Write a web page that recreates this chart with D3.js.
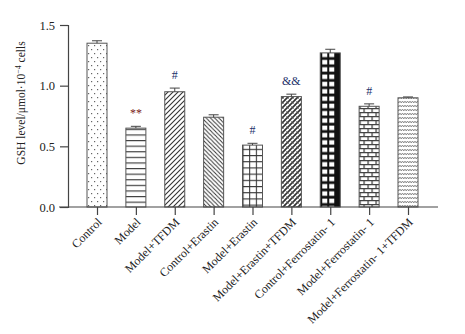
<!DOCTYPE html>
<html>
<head>
<meta charset="utf-8">
<script src="https://cdn.jsdelivr.net/npm/d3@7"></script>
<style>
  body { margin: 0; background: #fff; }
  text { font-family: "Liberation Serif", "Times New Roman", serif; fill: #222; }
</style>
</head>
<body>
<div id="chart"></div>
<script>
// values
let categories = ["Control", "Model", "Model+TFDM", "Control+Erastin", "Model+Erastin",
    "Model+Erastin+TFDM", "Control+Ferrostatin-1", "Model+Ferrostatin-1", "Model+Ferrostatin-1+TFDM"];
let labels = ["Control", "Model", "Model+TFDM", "Control+Erastin", "Model+Erastin",
    "Model+Erastin+TFDM", "Control+Ferrostatin- 1", "Model+Ferrostatin- 1", "Model+Ferrostatin- 1+TFDM"];
let means = [1.35, 0.65, 0.95, 0.74, 0.51, 0.91, 1.27, 0.83, 0.90];
let errors = [0.02, 0.015, 0.03, 0.02, 0.015, 0.02, 0.03, 0.02, 0.007];
let marks = ["", "**", "#", "", "#", "&&", "", "#", ""];
let yTicks = [0, 0.5, 1.0, 1.5];

let w = 465, h = 334;
let svg = d3.select("#chart").append("svg").attr("width", w).attr("height", h);

const y = d3.scaleLinear().domain([0, 1.5]).range([207, 25]);
const x = d3.scalePoint().domain(categories).range([97, 408]);
let barW = 20;

let defs = svg.append("defs");
function pat(id, pw, ph, px) {
    return defs.append("pattern").attr("id", id)
        .attr("patternUnits", "userSpaceOnUse")
        .attr("x", px || 0).attr("y", 0)
        .attr("width", pw).attr("height", ph);
}
// 0 dots
let p0 = pat("p0", 6, 8);
p0.append("rect").attr("width", 6).attr("height", 8).attr("fill", "#fff");
p0.append("rect").attr("x", 1).attr("y", 1).attr("width", 1.2).attr("height", 1.2).attr("fill", "#666");
p0.append("rect").attr("x", 4).attr("y", 5).attr("width", 1.2).attr("height", 1.2).attr("fill", "#666");
// 1 horizontal lines
let p1 = pat("p1", 10, 5.6);
p1.append("rect").attr("width", 10).attr("height", 5.6).attr("fill", "#fff");
p1.append("line").attr("x1", 0).attr("x2", 10).attr("y1", 0.6).attr("y2", 0.6)
    .attr("stroke", "#333").attr("stroke-width", 1.1);
// 2 "/" diagonals
let p2 = pat("p2", 5, 5);
p2.append("rect").attr("width", 5).attr("height", 5).attr("fill", "#fff");
p2.append("path").attr("d", "M0,5L5,0M-1,1L1,-1M4,6L6,4").attr("stroke", "#333").attr("stroke-width", 1.1);
// 3 "\" diagonals
let p3 = pat("p3", 4.2, 4.2);
p3.append("rect").attr("width", 4.2).attr("height", 4.2).attr("fill", "#fff");
p3.append("path").attr("d", "M0,0L4.2,4.2M-1,3.2L1,5.2M3.2,-1L5.2,1").attr("stroke", "#333").attr("stroke-width", 1);
// 4 grid
let gx = x("Model+Erastin") - barW / 2;
let p4 = pat("p4", barW / 3, 6.2, gx);
p4.append("rect").attr("width", barW / 3).attr("height", 6.2).attr("fill", "#fff");
p4.append("path").attr("d", "M0,0.5H" + (barW / 3) + "M0.5,0V6.2").attr("stroke", "#333").attr("stroke-width", 1.1);
// 5 cross hatch
let p5 = pat("p5", 5, 5);
p5.append("rect").attr("width", 5).attr("height", 5).attr("fill", "#fff");
p5.append("path").attr("d", "M0,5L5,0M-1,1L1,-1M4,6L6,4").attr("stroke", "#333").attr("stroke-width", 1.6);
p5.append("path").attr("d", "M0,0L5,5").attr("stroke", "#555").attr("stroke-width", 0.6);
// 6 black with white squares
let bx = x("Control+Ferrostatin-1") - barW / 2;
let p6 = pat("p6", barW, 7.3, bx);
p6.append("rect").attr("width", barW).attr("height", 7.3).attr("fill", "#111");
p6.append("rect").attr("x", 2).attr("y", 1.5).attr("width", 5).attr("height", 4.5).attr("fill", "#fff");
p6.append("rect").attr("x", 9).attr("y", 1.5).attr("width", 5).attr("height", 4.5).attr("fill", "#fff");
// 7 bricks
let p7 = pat("p7", 8, 8, x("Model+Ferrostatin-1") - barW / 2);
p7.append("rect").attr("width", 8).attr("height", 8).attr("fill", "#fff");
p7.append("path").attr("d", "M0,0.6H8M0,4.6H8M1,0.6V4.6M5,4.6V8.6")
    .attr("stroke", "#444").attr("stroke-width", 1.3);
// 8 zigzag
let p8 = pat("p8", 5, 4);
p8.append("rect").attr("width", 5).attr("height", 4).attr("fill", "#fff");
p8.append("path").attr("d", "M0,1L1.25,3L2.5,1L3.75,3L5,1").attr("fill", "none")
    .attr("stroke", "#777").attr("stroke-width", 0.8);

// bars
let g = svg.append("g");
g.selectAll(".bar").data(categories).enter().append("rect")
    .attr("class", "bar")
    .attr("x", function(d) { return x(d) - barW / 2; })
    .attr("y", function(d, i) { return y(means[i]); })
    .attr("width", barW)
    .attr("height", function(d, i) { return y(0) - y(means[i]); })
    .attr("fill", function(d, i) { return "url(#p" + i + ")"; })
    .attr("stroke", "#555").attr("stroke-width", 1);

// error bars (upper only)
g.selectAll(".err").data(categories).enter().append("path")
    .attr("class", "err")
    .attr("d", function(d, i) {
        let cx = x(d), t = y(means[i]), e = y(means[i] + errors[i]);
        return "M" + cx + "," + t + "V" + e + "M" + (cx - 5) + "," + e + "H" + (cx + 5);
    })
    .attr("stroke", "#444").attr("stroke-width", 1).attr("fill", "none");

// significance marks
g.selectAll(".mark").data(categories).enter().append("text")
    .attr("class", "mark")
    .attr("x", function(d) { return x(d); })
    .attr("y", function(d, i) { return y(means[i] + errors[i]) - 9; })
    .attr("text-anchor", "middle")
    .style("font-size", "12px")
    .style("fill", function(d, i) { return marks[i] === "**" ? "#7a2020" : "#22306a"; })
    .text(function(d, i) { return marks[i]; });

// y axis
let yAxis = svg.append("g").attr("transform", "translate(68,0)")
    .call(d3.axisLeft(y).tickValues(yTicks).tickFormat(d3.format(".1f")).tickSize(8).tickPadding(5));
yAxis.select(".domain").attr("stroke", "#444").attr("stroke-width", 1.2);
yAxis.selectAll(".tick line").attr("stroke", "#444").attr("stroke-width", 1.2);
yAxis.selectAll(".tick text").style("font-size", "12.5px").style("font-family", "Liberation Serif").attr("fill", "#222");

// x axis
let xAxis = svg.append("g").attr("transform", "translate(0,207)")
    .call(d3.axisBottom(x).tickSize(8).tickFormat(function(d, i) { return labels[i]; }));
xAxis.select(".domain").remove();
xAxis.append("line").attr("x1", 59).attr("x2", 438).attr("y1", 0).attr("y2", 0)
    .attr("stroke", "#444").attr("stroke-width", 1.2);
xAxis.selectAll(".tick line").attr("stroke", "#444").attr("stroke-width", 1.2);
xAxis.selectAll(".tick text")
    .style("font-size", "12px").style("font-family", "Liberation Serif").attr("fill", "#222")
    .attr("text-anchor", "end")
    .attr("dy", null)
    .attr("y", 0)
    .attr("transform", "translate(5,16) rotate(-45)");

// y label
svg.append("text")
    .attr("transform", "translate(25,103) rotate(-90)")
    .attr("text-anchor", "middle")
    .style("font-size", "11.5px")
    .html('GSH level/μmol·10<tspan dy="-4" style="font-size:8px">−4</tspan><tspan dy="4"> cells</tspan>');
</script>
</body>
</html>
